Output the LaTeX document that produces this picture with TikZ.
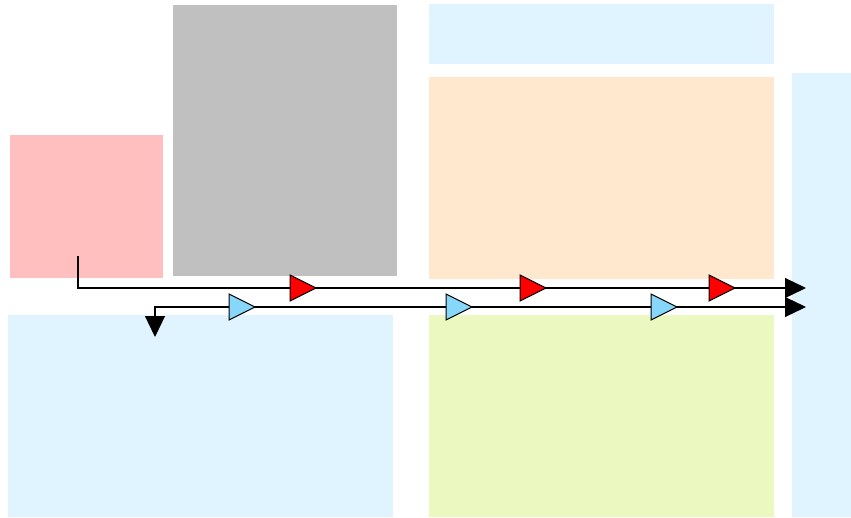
\documentclass[tikz,border=0pt]{standalone}
\usetikzlibrary{arrows.meta}
\definecolor{pinkbox}{RGB}{255,191,191}
\definecolor{graybox}{RGB}{192,192,192}
\definecolor{bluebox}{RGB}{224,244,255}
\definecolor{peachbox}{RGB}{255,232,205}
\definecolor{greenbox}{RGB}{235,249,192}
\definecolor{bluetri}{RGB}{135,215,250}
\tikzset{
  area/.style={draw=none, inner sep=0pt, outer sep=0pt, anchor=north west},
  flow/.style={line width=1.2pt, -{Triangle[length=21pt,width=20pt]}},
  bothflow/.style={line width=1.2pt, {Triangle[length=21pt,width=20pt]}-{Triangle[length=21pt,width=20pt]}},
  marker/.pic={\path[pic actions, draw=black, line width=1pt, line join=miter] (-13,-13) -- (13,0) -- (-13,13) -- cycle;}
}
\begin{document}
\begin{tikzpicture}[x=1pt,y=-1pt]
\useasboundingbox (0,0) rectangle (851,517);
\node[area, fill=pinkbox, minimum width=153pt, minimum height=143pt] (pink) at (10,135) {};
\node[area, fill=graybox, minimum width=224pt, minimum height=271pt] (gray) at (173,5) {};
\node[area, fill=bluebox, minimum width=345pt, minimum height=60pt] (topblue) at (429,4) {};
\node[area, fill=peachbox, minimum width=345pt, minimum height=202pt] (peach) at (429,77) {};
\node[area, fill=bluebox, minimum width=59pt, minimum height=444pt] (rightblue) at (792,73) {};
\node[area, fill=bluebox, minimum width=385pt, minimum height=202pt] (leftblue) at (8,315) {};
\node[area, fill=greenbox, minimum width=345pt, minimum height=202pt] (green) at (429,315) {};
\coordinate (s1) at (78,256);
\coordinate (e1) at (806,288);
\coordinate (s2) at (155,337);
\coordinate (e2) at (806,307);
\draw[flow] (s1) |- (e1);
\draw[bothflow] (s2) |- (e2);
\pic[fill=red] at (303,288) {marker};
\pic[fill=red] at (533,288) {marker};
\pic[fill=red] at (722,288) {marker};
\pic[fill=bluetri] at (242,307) {marker};
\pic[fill=bluetri] at (459,307) {marker};
\pic[fill=bluetri] at (664,307) {marker};
\end{tikzpicture}
\end{document}
